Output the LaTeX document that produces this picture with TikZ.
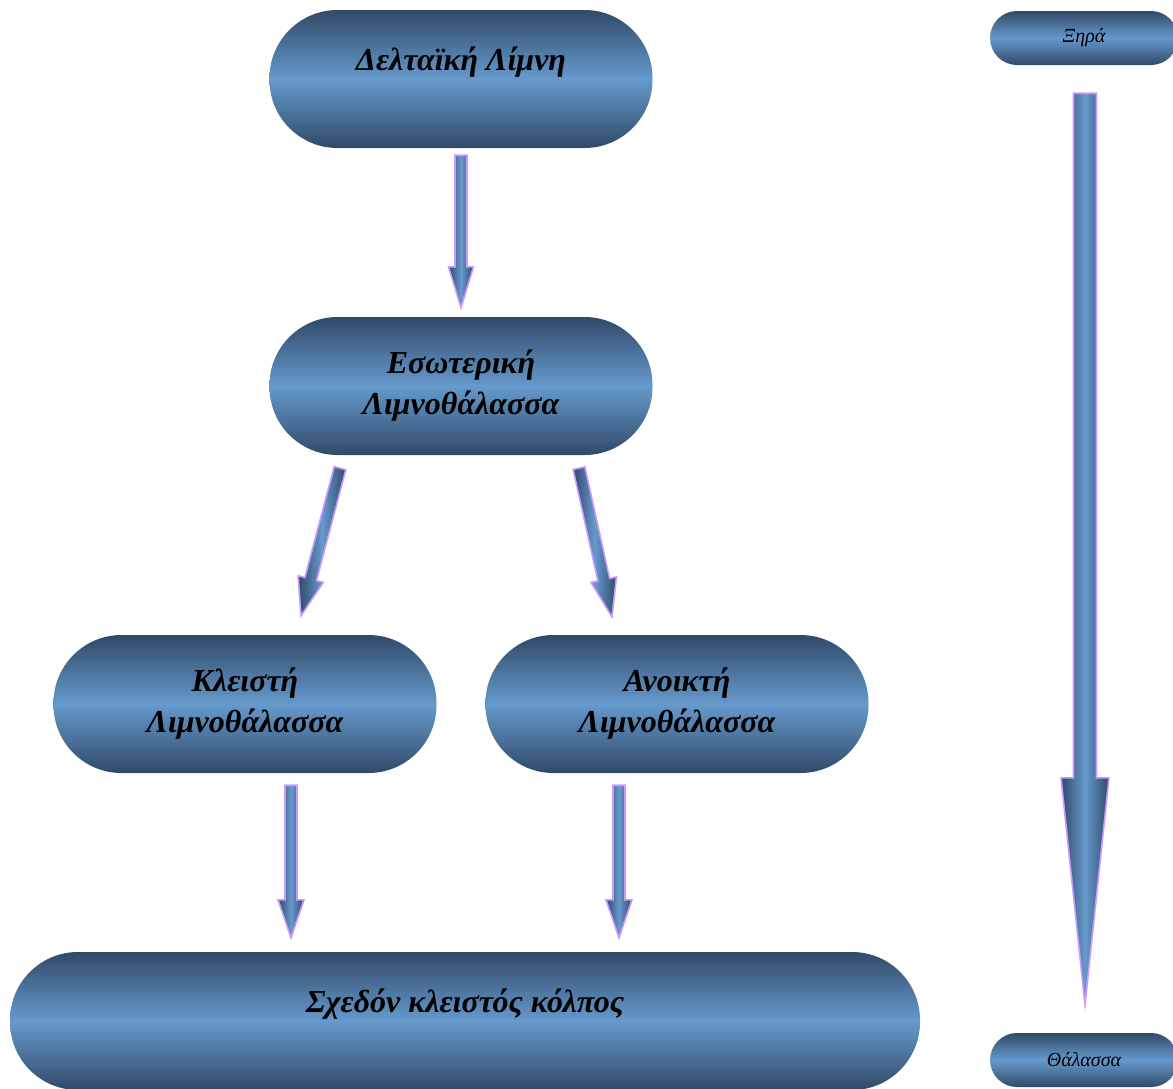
\documentclass[tikz,border=0pt]{standalone}
\usepackage{fontspec}
\setmainfont{Liberation Serif}
\usetikzlibrary{calc}
\definecolor{boxdark}{HTML}{304A68}
\definecolor{boxlight}{HTML}{6699CC}
\definecolor{arrowline}{HTML}{CC99FF}
\tikzset{
  lagoon/.style={rounded corners=68pt, minimum width=383pt, minimum height=138pt,
    inner sep=0pt, align=center, top color=boxdark, bottom color=boxdark,
    middle color=boxlight, font=\fontsize{32}{41}\selectfont\bfseries\itshape},
  side/.style={rounded corners=27pt, minimum width=188pt, minimum height=54pt,
    inner sep=0pt, top color=boxdark, bottom color=boxdark,
    middle color=boxlight, font=\fontsize{20}{24}\selectfont\itshape},
  flow/.style n args={3}{draw=arrowline, line width=1.6pt, line join=miter,
    left color=boxdark, right color=boxdark, middle color=boxlight,
    to path={
      ($(\tikztostart)!#1!90:(\tikztotarget)$)
      -- ($(\tikztotarget)!#3!(\tikztostart)!#1!-90:(\tikztostart)$)
      -- ($(\tikztotarget)!#3!(\tikztostart)!#2!-90:(\tikztostart)$)
      -- (\tikztotarget)
      -- ($(\tikztotarget)!#3!(\tikztostart)!#2!90:(\tikztostart)$)
      -- ($(\tikztotarget)!#3!(\tikztostart)!#1!90:(\tikztostart)$)
      -- ($(\tikztostart)!#1!-90:(\tikztotarget)$)
      -- cycle}}
}
\begin{document}
\begin{tikzpicture}[x=1pt,y=-1pt]
    \path[use as bounding box,clip] (0,0) rectangle (1173,1088);
    % boxes
    \node[lagoon] (delta) at (461,79) {Δελταϊκή Λίμνη\\~};
    \node[lagoon] (eso) at (461,386) {Εσωτερική\\Λιμνοθάλασσα};
    \node[lagoon] (klei) at (245,704) {Κλειστή\\Λιμνοθάλασσα};
    \node[lagoon] (anoi) at (677,704) {Ανοικτή\\Λιμνοθάλασσα};
    \node[lagoon, minimum width=910pt] (sxed) at (465,1021) {Σχεδόν κλειστός κόλπος\\~};
    \node[side] (xira) at (1084,38) {Ξηρά};
    \node[side] (thal) at (1084,1060) {Θάλασσα};
    % arrow ends
    \coordinate (a1s) at ($(delta.south)+(0,7)$);
    \coordinate (a1e) at ($(eso.north)+(0,-9)$);
    \coordinate (a2s) at ($(eso.south)+(-121,13)$);
    \coordinate (a2e) at ($(klei.north)+(56,-19)$);
    \coordinate (a3s) at ($(eso.south)+(118,13)$);
    \coordinate (a3e) at ($(anoi.north)+(-65,-18)$);
    \coordinate (a4s) at ($(klei.south)+(46,12)$);
    \coordinate (a4e) at ($(sxed.north)+(-174,-14)$);
    \coordinate (a5s) at ($(anoi.south)+(-58,12)$);
    \coordinate (a5e) at ($(sxed.north)+(154,-14)$);
    \coordinate (a6s) at ($(xira.south)+(1,28)$);
    \coordinate (a6e) at ($(thal.north)+(1,-28)$);
    \draw[flow={6pt}{12.5pt}{41pt}] (a1s) to (a1e);
    \draw[flow={6pt}{13pt}{38pt}] (a2s) to (a2e);
    \draw[flow={6pt}{13pt}{38pt}] (a3s) to (a3e);
    \draw[flow={6pt}{13pt}{38pt}] (a4s) to (a4e);
    \draw[flow={6pt}{13pt}{38pt}] (a5s) to (a5e);
    \draw[flow={11.5pt}{24pt}{227pt}] (a6s) to (a6e);
\end{tikzpicture}
\end{document}
